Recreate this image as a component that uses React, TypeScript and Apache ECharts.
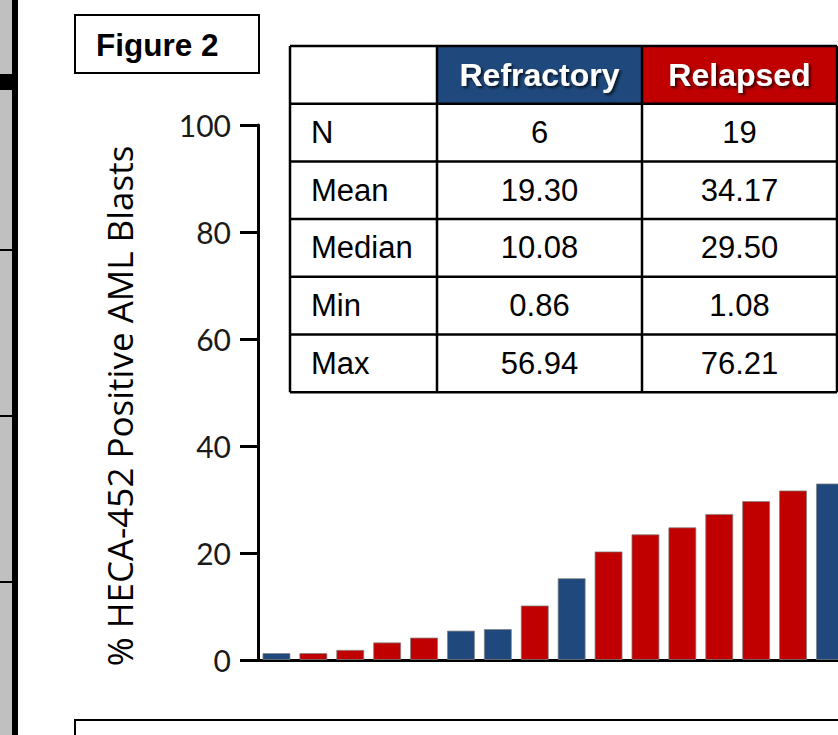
import React, { useEffect, useRef } from "react";
import * as echarts from "echarts";

const patients = ["1", "2", "3", "4", "5", "6", "7", "8", "9", "10", "11", "12", "13", "14", "15", "16"];
const blastPct = [1.3, 1.3, 1.9, 3.3, 4.2, 5.5, 5.8, 10.2, 15.3, 20.3, 23.5, 24.8, 27.3, 29.7, 31.7, 33.0];
const patientGroup = [
  "Refractory", "Relapsed", "Relapsed", "Relapsed", "Relapsed", "Refractory", "Refractory", "Relapsed",
  "Refractory", "Relapsed", "Relapsed", "Relapsed", "Relapsed", "Relapsed", "Relapsed", "Refractory",
];
const yTicks = [0, 20, 40, 60, 80, 100];
const groupHeaders = ["Refractory", "Relapsed"];
const statLabels = ["N", "Mean", "Median", "Min", "Max"];
const refractoryStats = ["6", "19.30", "10.08", "0.86", "56.94"];
const relapsedStats = ["19", "34.17", "29.50", "1.08", "76.21"];
const figureLabel = "Figure 2";
const yAxisTitle = "% HECA-452 Positive AML Blasts";

const BLUE = "#1F497D";
const RED = "#C00000";
const groupColor: Record<string, string> = { Refractory: BLUE, Relapsed: RED };

const CHART_W = 900;

export default function App() {
  const ref = useRef<HTMLDivElement>(null);
  useEffect(() => {
    if (!ref.current) return;
    const chart = echarts.init(ref.current, undefined, { renderer: "svg" });

    const tL = 290, tR = 837, tT = 46;
    const colX = [tL, 437, 642, tR];
    const rowH = 57.7;
    const rowsY = Array.from({ length: statLabels.length + 2 }, (_, i) => tT + i * rowH);
    const tB = rowsY[rowsY.length - 1];
    const graphics: any[] = [];

    // left strip
    graphics.push({ type: "rect", shape: { x: 0, y: 0, width: 12, height: 735 }, style: { fill: "#c0c0c0" }, silent: true });
    graphics.push({ type: "rect", shape: { x: 12, y: 0, width: 6, height: 735 }, style: { fill: "#000" }, silent: true });
    graphics.push({ type: "rect", shape: { x: 0, y: 74, width: 12, height: 16 }, style: { fill: "#000" }, silent: true });
    [250, 416, 582].forEach((y) =>
      graphics.push({ type: "rect", shape: { x: 0, y: y - 1, width: 12, height: 2 }, style: { fill: "#000" }, silent: true })
    );

    // Figure label box
    graphics.push({ type: "rect", shape: { x: 75, y: 15, width: 184, height: 58 }, style: { fill: "#fff", stroke: "#000", lineWidth: 2 }, silent: true });
    graphics.push({
      type: "text", x: 96, y: 45,
      style: { text: figureLabel, fill: "#000", font: "bold 31.5px 'Liberation Sans', Arial, sans-serif", textAlign: "left", textVerticalAlign: "middle" },
      silent: true,
    });

    // bottom box
    graphics.push({ type: "rect", shape: { x: 75, y: 720, width: 800, height: 60 }, style: { fill: "#fff", stroke: "#000", lineWidth: 2 }, silent: true });

    // y axis title
    graphics.push({
      type: "text", x: 119, y: 406, rotation: Math.PI / 2,
      style: { text: yAxisTitle, fill: "#000", font: "35px 'Open Sans', sans-serif", textAlign: "center", textVerticalAlign: "middle" },
      silent: true,
    });

    // table
    graphics.push({ type: "rect", shape: { x: tL, y: tT, width: tR - tL, height: tB - tT }, style: { fill: "#fff" }, silent: true });
    groupHeaders.forEach((h, i) => {
      graphics.push({
        type: "rect", shape: { x: colX[i + 1], y: tT, width: colX[i + 2] - colX[i + 1], height: rowH },
        style: { fill: groupColor[h] }, silent: true,
      });
      graphics.push({
        type: "text", x: (colX[i + 1] + colX[i + 2]) / 2, y: tT + rowH / 2,
        style: {
          text: h, fill: "#fff", font: "bold 32px 'Liberation Sans', Arial, sans-serif",
          textAlign: "center", textVerticalAlign: "middle",
          textShadowColor: "rgba(0,0,0,0.75)", textShadowBlur: 3, textShadowOffsetX: 2, textShadowOffsetY: 2,
        },
        silent: true,
      });
    });
    statLabels.forEach((lab, r) => {
      const cy = rowsY[r + 1] + rowH / 2;
      graphics.push({
        type: "text", x: 311, y: cy,
        style: { text: lab, fill: "#000", font: "31px 'Liberation Sans', Arial, sans-serif", textAlign: "left", textVerticalAlign: "middle" },
        silent: true,
      });
      [refractoryStats[r], relapsedStats[r]].forEach((v, c) => {
        graphics.push({
          type: "text", x: (colX[c + 1] + colX[c + 2]) / 2, y: cy,
          style: { text: v, fill: "#000", font: "31px 'Liberation Sans', Arial, sans-serif", textAlign: "center", textVerticalAlign: "middle" },
          silent: true,
        });
      });
    });
    rowsY.forEach((y) =>
      graphics.push({ type: "line", shape: { x1: tL, y1: y, x2: tR, y2: y }, style: { stroke: "#000", lineWidth: 2.5 }, silent: true })
    );
    colX.forEach((x) =>
      graphics.push({ type: "line", shape: { x1: x, y1: tT, x2: x, y2: tB }, style: { stroke: "#000", lineWidth: 2.5 }, silent: true })
    );

    const pitch = 36.9;
    const gridW = pitch * patients.length;

    chart.setOption({
      animation: false,
      backgroundColor: "#fff",
      grid: { left: 258, top: 125, bottom: 75, right: CHART_W - 258 - gridW, containLabel: false },
      xAxis: {
        type: "category",
        data: patients,
        axisLine: { show: true, lineStyle: { color: "#000", width: 3 } },
        axisTick: { show: false },
        axisLabel: { show: false },
      },
      yAxis: {
        type: "value",
        min: yTicks[0],
        max: yTicks[yTicks.length - 1],
        interval: 20,
        splitLine: { show: false },
        axisLine: { show: true, lineStyle: { color: "#000", width: 3 } },
        axisTick: { show: true, length: 18, lineStyle: { color: "#000", width: 3 } },
        axisLabel: { margin: 27, fontSize: 30, fontFamily: "Lato, sans-serif", color: "#1a1a1a" },
      },
      series: [
        {
          type: "bar",
          barWidth: 28,
          data: blastPct.map((v, i) => ({
            value: v,
            itemStyle: { color: groupColor[patientGroup[i]] },
          })),
          itemStyle: { borderColor: "rgba(130,130,130,0.75)", borderWidth: 1 },
        },
      ],
      graphic: { elements: graphics },
    });
    return () => chart.dispose();
  }, []);
  return (
    <div style={{ position: "absolute", left: 0, top: 0, width: 838, height: 735, overflow: "hidden" }}>
      <div ref={ref} style={{ width: CHART_W, height: 735 }} />
    </div>
  );
}
